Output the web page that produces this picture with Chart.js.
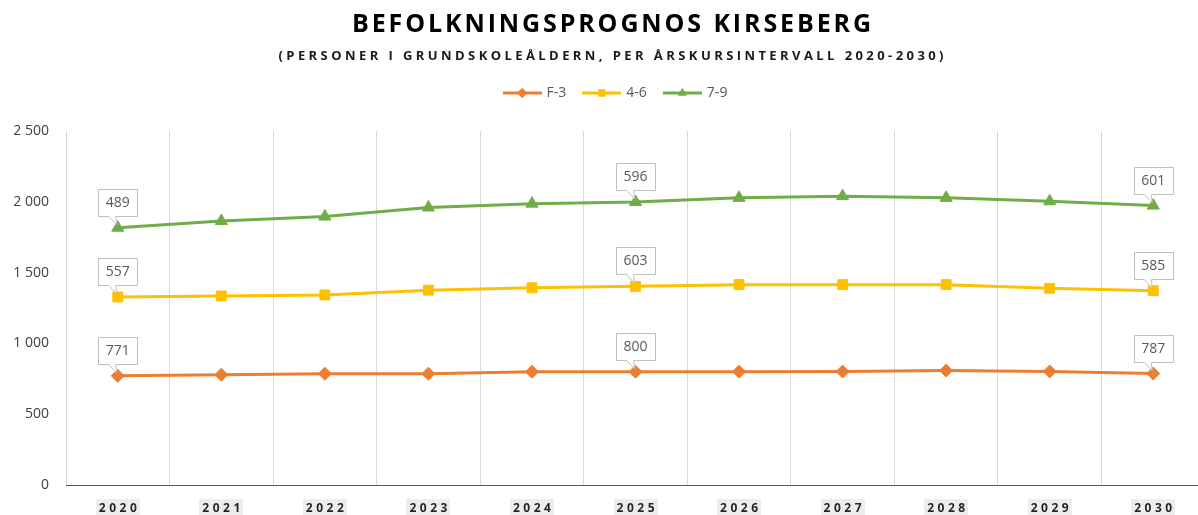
<!DOCTYPE html>
<html>
<head>
<meta charset="utf-8">
<script src="https://cdn.jsdelivr.net/npm/chart.js@4/dist/chart.umd.min.js"></script>
<style>
  html, body { margin: 0; padding: 0; background: #fff; overflow: hidden; }
  #wrap { width: 1198px; height: 515px; position: relative; overflow: hidden; }
  #c { display: block; }
</style>
</head>
<body>
<div id="wrap"><canvas id="c" width="1205" height="515"></canvas></div>
<script>
// ---- Data ----
const titleText = 'BEFOLKNINGSPROGNOS KIRSEBERG';
const subtitleText = '(PERSONER I GRUNDSKOLEÅLDERN, PER ÅRSKURSINTERVALL 2020-2030)';
const years = ['2020','2021','2022','2023','2024','2025','2026','2027','2028','2029','2030'];
const seriesNames = ['F-3', '4-6', '7-9'];
const f3  = [771, 779, 786, 786, 799, 800, 800, 801, 808, 802, 787];
const g46 = [557, 556, 556, 590, 594, 603, 615, 614, 607, 587, 585];
const g79 = [489, 529, 554, 584, 594, 596, 613, 625, 613, 615, 601];
const yTicks = [0, 500, 1000, 1500, 2000, 2500];
const labelIndexes = [0, 5, 10];

const colors = ['#ED7D31', '#FFC000', '#70AD47'];
const markers = ['rectRot', 'rect', 'triangle'];
const markerRadius = [6.5, 7, 7];

function fmt(v) {
  if (v >= 1000) return Math.floor(v / 1000) + ' ' + String(v % 1000).padStart(3, '0');
  return String(v);
}

// legend icon: line with marker
function legendIcon(color, style) {
  const cv = document.createElement('canvas');
  cv.width = 39; cv.height = 14;
  const g = cv.getContext('2d');
  g.strokeStyle = color; g.lineWidth = 3;
  g.beginPath(); g.moveTo(0, 7); g.lineTo(39, 7); g.stroke();
  g.fillStyle = color;
  Chart.helpers.drawPoint(g, {pointStyle: style, radius: 5, borderWidth: 0}, 19.5, 7);
  g.fill();
  return cv;
}

// draw text with letter spacing fitted to a target width
function spacedText(ctx, text, cx, y, targetW) {
  const chars = Array.from(text);
  const widths = chars.map(ch => ctx.measureText(ch).width);
  const total = widths.reduce((a, b) => a + b, 0);
  const ls = chars.length > 1 ? (targetW - total) / (chars.length - 1) : 0;
  let x = cx - targetW / 2;
  ctx.textAlign = 'left';
  chars.forEach((ch, i) => { ctx.fillText(ch, x, y); x += widths[i] + ls; });
}

const decorPlugin = {
  id: 'decor',
  beforeInit(chart) {
    const origFit = chart.legend.fit;
    chart.legend.fit = function () { origFit.bind(chart.legend)(); this.height += 21; };
  },
  afterLayout(chart) {
    chart.legend.left = 27;
  },
  afterDatasetsDraw(chart) {
    const ctx = chart.ctx;
    ctx.save();
    ctx.font = '14px "Open Sans"';
    ctx.textBaseline = 'middle';
    chart.data.datasets.forEach((ds, di) => {
      const meta = chart.getDatasetMeta(di);
      labelIndexes.forEach(i => {
        const pt = meta.data[i];
        const txt = String(ds.data[i]);
        const tw = ctx.measureText(txt).width;
        const w = Math.round(tw + 15), h = 27;
        const cx = pt.x;
        const bottom = Math.round(pt.y - 12) + 0.5;
        const left = Math.round(cx - w / 2) + 0.5;
        const top = bottom - h;
        ctx.beginPath();
        ctx.moveTo(left, top);
        ctx.lineTo(left + w, top);
        ctx.lineTo(left + w, bottom);
        ctx.lineTo(cx - 2, bottom);
        ctx.lineTo(pt.x - 1, pt.y - 3);
        ctx.lineTo(cx - 9, bottom);
        ctx.lineTo(left, bottom);
        ctx.closePath();
        ctx.fillStyle = '#ffffff';
        ctx.fill();
        ctx.strokeStyle = '#bfbfbf';
        ctx.lineWidth = 1;
        ctx.stroke();
        ctx.fillStyle = '#595959';
        ctx.textAlign = 'center';
        ctx.fillText(txt, cx, top + h / 2 + 0.5);
      });
    });
    ctx.restore();
  },
  afterDraw(chart) {
    const ctx = chart.ctx;
    ctx.save();
    ctx.textBaseline = 'alphabetic';
    ctx.fillStyle = '#000000';
    ctx.font = 'bold 25px "Open Sans"';
    spacedText(ctx, titleText, 611.5, 32, 519);
    ctx.fillStyle = '#1a1a1a';
    ctx.font = 'bold 13px "Open Sans"';
    spacedText(ctx, subtitleText, 611, 60, 665);
    // x labels
    const xs = chart.scales.x;
    ctx.font = 'bold 12px "Open Sans"';
    years.forEach((yr, i) => {
      const x = xs.getPixelForValue(i);
      ctx.fillStyle = 'rgba(0,0,0,0.07)';
      ctx.fillRect(Math.round(x - 22), 499, 44, 16);
      ctx.fillStyle = '#262626';
      spacedText(ctx, yr, x, 512, 38);
    });
    ctx.restore();
  }
};

new Chart(document.getElementById('c'), {
  type: 'line',
  data: {
    labels: years,
    datasets: [f3, g46, g79].map((d, i) => ({
      label: seriesNames[i],
      data: d,
      borderColor: colors[i],
      backgroundColor: colors[i],
      borderWidth: 3,
      pointStyle: markers[i],
      pointRadius: markerRadius[i],
      pointHoverRadius: markerRadius[i],
      pointBorderWidth: 1,
      pointBackgroundColor: colors[i],
      pointBorderColor: colors[i],
      fill: false,
      tension: 0
    }))
  },
  options: {
    responsive: false,
    animation: false,
    devicePixelRatio: 1,
    layout: { autoPadding: false, padding: { left: 0, right: 0, top: 68, bottom: 0 } },
    plugins: {
      title: { display: false },
      tooltip: { enabled: false },
      legend: {
        display: true,
        position: 'top',
        labels: {
          usePointStyle: true,
          pointStyleWidth: 35,
          boxHeight: 14,
          padding: 18,
          color: '#595959',
          font: { family: '"Open Sans"', size: 14 },
          generateLabels(chart) {
            return chart.data.datasets.map((ds, i) => ({
              text: ds.label,
              pointStyle: legendIcon(colors[i], markers[i]),
              fillStyle: colors[i],
              strokeStyle: colors[i],
              lineWidth: 0,
              hidden: false,
              datasetIndex: i,
              fontColor: '#595959'
            }));
          }
        }
      }
    },
    scales: {
      x: {
        type: 'category',
        offset: true,
        grid: { display: true, offset: true, color: '#d9d9d9', lineWidth: 1, drawTicks: false },
        border: { display: true, color: '#595959', width: 1 },
        ticks: { display: false },
        afterFit(scale) { scale.height = 30; }
      },
      y: {
        stacked: true,
        min: 0,
        max: 2500,
        afterBuildTicks(scale) { scale.ticks = yTicks.map(v => ({ value: v })); },
        grid: { display: false, drawTicks: false },
        border: { display: false },
        ticks: {
          padding: 17,
          color: '#404040',
          font: { family: '"Open Sans"', size: 14 },
          callback: v => fmt(v)
        },
        afterFit(scale) { scale.width = 66; }
      }
    }
  },
  plugins: [decorPlugin]
});
</script>
</body>
</html>
